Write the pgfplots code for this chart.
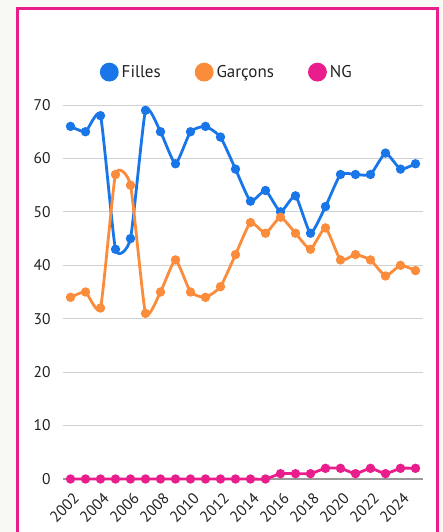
\documentclass[border=0pt]{standalone}
\usepackage{pgfplots}
\pgfplotsset{compat=1.18}
\usepackage{fontspec}
\setmainfont{PT Sans}
\definecolor{bgpage}{HTML}{F8F9F4}
\definecolor{frame}{HTML}{E91E8C}
\definecolor{filles}{HTML}{1976E8}
\definecolor{garcons}{HTML}{FA8C3C}
\definecolor{ng}{HTML}{E91E8C}
\definecolor{txt}{HTML}{222222}

\pgfplotstableread{
year filles garcons ng
2002 66 34 0
2003 65 35 0
2004 68 32 0
2005 43 57 0
2006 45 55 0
2007 69 31 0
2008 65 35 0
2009 59 41 0
2010 65 35 0
2011 66 34 0
2012 64 36 0
2013 58 42 0
2014 52 48 0
2015 54 46 0
2016 50 49 1
2017 53 46 1
2018 46 43 1
2019 51 47 2
2020 57 41 2
2021 57 42 1
2022 57 41 2
2023 61 38 1
2024 58 40 2
2025 59 39 2
}\data

\begin{document}
\begin{tikzpicture}[x=1pt,y=1pt]
\useasboundingbox (0,0) rectangle (443,532);
\fill[bgpage] (0,0) rectangle (443,532);
\fill[white] (17.5,-5) rectangle (437.5,523.5);
\draw[frame, line width=3pt] (17.5,-5) -- (17.5,523.5) -- (437.5,523.5) -- (437.5,-5);
\begin{axis}[
  at={(63pt,53pt)}, anchor=south west,
  scale only axis, width=360pt, height=374pt,
  xmin=2001.5, xmax=2025.5, ymin=0, ymax=70,
  clip=false,
  axis line style={draw=none},
  major tick length=0pt,
  xtick={2002,2004,...,2024},
  ytick={0,10,...,70},
  ymajorgrids, grid style={color=black!18, line width=1pt},
  extra y ticks={0}, extra y tick labels={},
  extra y tick style={grid style={color=black!40, line width=1.2pt}},
  /pgf/number format/assume math mode=true,
  xticklabel={\pgfmathprintnumber[1000 sep={}]{\tick}},
  tick label style={font=\fontsize{15.5}{18}\selectfont, text=txt},
  y tick label style={xshift=-9pt},
  x tick label style={inner sep=0pt, anchor=east, xshift=6pt, yshift=-17pt, rotate=45},
  legend columns=3,
  legend style={at={(0.455,1.088)}, anchor=center, draw=none, fill=none,
    font=\fontsize{17}{20}\selectfont, text=txt,
    /tikz/every odd column/.append style={column sep=1pt},
    /tikz/every even column/.append style={column sep=32pt}},
  legend image code/.code={\fill (0.3cm,0cm) circle (8pt);},
  every axis plot/.append style={line width=2.8pt, smooth, tension=0.3,
    mark=*, mark size=3.2pt},
]
\addplot[color=filles] table[x=year, y=filles] {\data};
\addlegendentry{Filles}
\addplot[color=garcons] table[x=year, y=garcons] {\data};
\addlegendentry{Garçons}
\addplot[color=ng] table[x=year, y=ng] {\data};
\addlegendentry{NG}
\end{axis}
\end{tikzpicture}
\end{document}
